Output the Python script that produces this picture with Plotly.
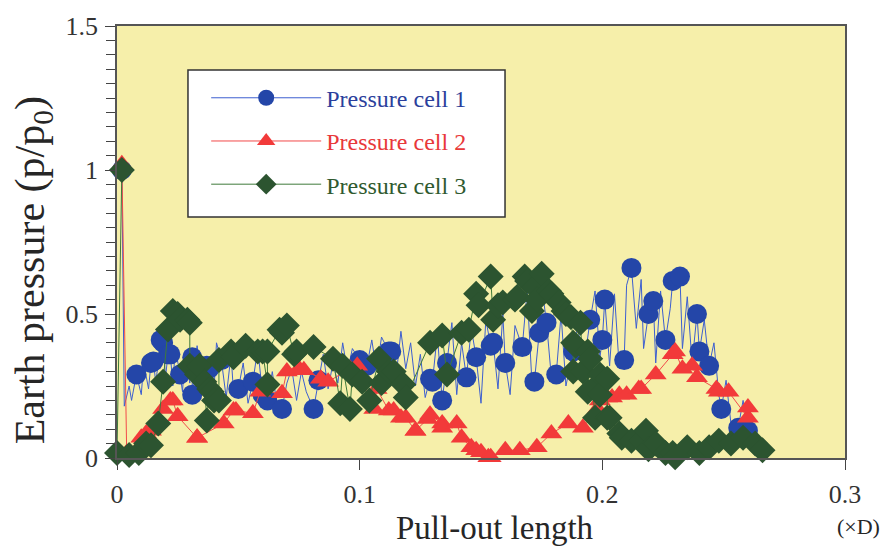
import plotly.graph_objects as go

# Pressure cell 1: full recorded signal (line) and plotted samples (circles)
x1_line = [0.000, 0.002, 0.003, 0.005, 0.006, 0.008, 0.010, 0.011, 0.013, 0.014, 0.015, 0.016,
           0.018, 0.019, 0.020, 0.021, 0.022, 0.023, 0.024, 0.026, 0.027, 0.028, 0.030, 0.031,
           0.031, 0.033, 0.035, 0.037, 0.038, 0.040, 0.041, 0.043, 0.045, 0.047, 0.048, 0.050,
           0.052, 0.054, 0.056, 0.058, 0.060, 0.062, 0.064, 0.066, 0.068, 0.070, 0.072, 0.074,
           0.076, 0.078, 0.081, 0.083, 0.085, 0.087, 0.089, 0.091, 0.093, 0.095, 0.097, 0.100,
           0.101, 0.103, 0.105, 0.107, 0.109, 0.112, 0.113, 0.115, 0.117, 0.119, 0.121, 0.123,
           0.125, 0.127, 0.129, 0.130, 0.132, 0.134, 0.136, 0.138, 0.140, 0.142, 0.144, 0.146,
           0.148, 0.150, 0.152, 0.154, 0.155, 0.157, 0.159, 0.160, 0.162, 0.164, 0.167, 0.169,
           0.171, 0.172, 0.174, 0.175, 0.177, 0.179, 0.181, 0.183, 0.185, 0.188, 0.190, 0.192,
           0.195, 0.197, 0.199, 0.200, 0.201, 0.203, 0.205, 0.207, 0.209, 0.210, 0.212, 0.214,
           0.216, 0.217, 0.219, 0.221, 0.222, 0.224, 0.226, 0.228, 0.229, 0.232, 0.233, 0.235,
           0.237, 0.239, 0.240, 0.242, 0.244, 0.246, 0.248, 0.249, 0.251, 0.253, 0.256, 0.258,
           0.260]
y1_line = [1.00, 1.00, 0.18, 0.25, 0.20, 0.29, 0.22, 0.33, 0.24, 0.33, 0.335, 0.26,
           0.41, 0.40, 0.28, 0.36, 0.36, 0.25, 0.38, 0.29, 0.23, 0.37, 0.26, 0.35,
           0.22, 0.39, 0.27, 0.32, 0.31, 0.24, 0.40, 0.34, 0.21, 0.36, 0.23, 0.24,
           0.33, 0.19, 0.265, 0.38, 0.22, 0.20, 0.30, 0.18, 0.17, 0.26, 0.31, 0.20,
           0.30, 0.23, 0.17, 0.27, 0.36, 0.24, 0.33, 0.26, 0.40, 0.30, 0.38, 0.34,
           0.27, 0.32, 0.41, 0.30, 0.42, 0.37, 0.37, 0.28, 0.44, 0.31, 0.40, 0.25,
           0.36, 0.21, 0.275, 0.265, 0.43, 0.20, 0.33, 0.47, 0.22, 0.40, 0.28, 0.45,
           0.35, 0.19, 0.48, 0.39, 0.40, 0.24, 0.50, 0.33, 0.22, 0.46, 0.385, 0.58,
           0.26, 0.265, 0.435, 0.60, 0.47, 0.28, 0.29, 0.50, 0.25, 0.37, 0.46, 0.30,
           0.48, 0.58, 0.35, 0.41, 0.55, 0.32, 0.57, 0.31, 0.34, 0.60, 0.66, 0.45,
           0.62, 0.38, 0.50, 0.545, 0.33, 0.58, 0.41, 0.52, 0.615, 0.63, 0.38, 0.56,
           0.33, 0.50, 0.37, 0.48, 0.32, 0.40, 0.22, 0.17, 0.27, 0.12, 0.105, 0.20,
           0.095]
x1 = [0.002, 0.008, 0.014, 0.015, 0.018, 0.019, 0.021, 0.022, 0.026, 0.031, 0.031, 0.037,
      0.038, 0.043, 0.050, 0.056, 0.060, 0.062, 0.068, 0.081, 0.083, 0.100, 0.103, 0.112,
      0.113, 0.129, 0.130, 0.134, 0.136, 0.144, 0.148, 0.154, 0.155, 0.160, 0.167, 0.172,
      0.174, 0.177, 0.181, 0.188, 0.195, 0.200, 0.201, 0.209, 0.212, 0.219, 0.221, 0.226,
      0.229, 0.232, 0.239, 0.240, 0.244, 0.249, 0.256, 0.260]
y1 = [1.00, 0.29, 0.33, 0.335, 0.41, 0.40, 0.36, 0.36, 0.29, 0.35, 0.22, 0.32,
      0.31, 0.34, 0.24, 0.265, 0.22, 0.20, 0.17, 0.17, 0.27, 0.34, 0.32, 0.37,
      0.37, 0.275, 0.265, 0.20, 0.33, 0.28, 0.35, 0.39, 0.40, 0.33, 0.385, 0.265,
      0.435, 0.47, 0.29, 0.37, 0.48, 0.41, 0.55, 0.34, 0.66, 0.50, 0.545, 0.41,
      0.615, 0.63, 0.50, 0.37, 0.32, 0.17, 0.105, 0.095]

# Pressure cell 2
x2 = [0.002, 0.004, 0.010, 0.012, 0.014, 0.019, 0.022, 0.023, 0.025, 0.033, 0.033,
      0.044, 0.048, 0.049, 0.056, 0.059, 0.068, 0.070, 0.075, 0.077, 0.084, 0.087, 0.096,
      0.099, 0.106, 0.107, 0.112, 0.114, 0.117, 0.119, 0.123, 0.123, 0.128, 0.129, 0.134,
      0.134, 0.140, 0.142, 0.146, 0.148, 0.150, 0.153, 0.154, 0.160, 0.166, 0.173, 0.179,
      0.186, 0.192, 0.198, 0.199, 0.202, 0.204, 0.207, 0.210, 0.215, 0.216, 0.222, 0.229,
      0.230, 0.233, 0.237, 0.239, 0.247, 0.248, 0.252, 0.260, 0.260]
y2 = [1.02, 0.017, 0.07, 0.085, 0.095, 0.17, 0.20, 0.20, 0.145, 0.07, 0.07,
      0.12, 0.165, 0.165, 0.155, 0.23, 0.225, 0.30, 0.31, 0.305, 0.275, 0.265, 0.31,
      0.32, 0.17, 0.24, 0.165, 0.165, 0.14, 0.14, 0.095, 0.095, 0.135, 0.15, 0.12,
      0.105, 0.12, 0.07, 0.037, 0.027, 0.02, 0.003, 0.003, 0.027, 0.027, 0.037, 0.085,
      0.12, 0.105, 0.17, 0.20, 0.21, 0.21, 0.22, 0.22, 0.24, 0.24, 0.29, 0.36,
      0.37, 0.31, 0.32, 0.28, 0.24, 0.23, 0.23, 0.14, 0.175]

# Pressure cell 3
x3 = [0.002, 0.000, 0.005, 0.009, 0.012, 0.014, 0.017, 0.019, 0.021, 0.023, 0.025, 0.026,
      0.029, 0.030, 0.030, 0.033, 0.034, 0.036, 0.037, 0.038, 0.039, 0.040, 0.042, 0.042,
      0.047, 0.048, 0.053, 0.058, 0.060, 0.062, 0.062, 0.067, 0.068, 0.070, 0.073, 0.074,
      0.081, 0.089, 0.092, 0.093, 0.096, 0.097, 0.101, 0.104, 0.108, 0.109, 0.112, 0.114,
      0.118, 0.119, 0.129, 0.134, 0.136, 0.142, 0.145, 0.148, 0.149, 0.154, 0.155, 0.157,
      0.159, 0.164, 0.165, 0.168, 0.169, 0.171, 0.172, 0.173, 0.175, 0.178, 0.179, 0.182,
      0.184, 0.185, 0.187, 0.188, 0.188, 0.189, 0.191, 0.192, 0.194, 0.194, 0.195, 0.197,
      0.198, 0.199, 0.199, 0.202, 0.202, 0.203, 0.207, 0.208, 0.212, 0.216, 0.218, 0.219,
      0.222, 0.226, 0.229, 0.230, 0.235, 0.240, 0.244, 0.248, 0.253, 0.258, 0.263, 0.266]
y3 = [1.00, 0.017, 0.01, 0.017, 0.05, 0.044, 0.12, 0.265, 0.446, 0.51, 0.50, 0.48,
      0.48, 0.47, 0.32, 0.29, 0.32, 0.265, 0.13, 0.24, 0.23, 0.20, 0.20, 0.34,
      0.37, 0.35, 0.39, 0.37, 0.37, 0.255, 0.37, 0.445, 0.435, 0.46, 0.36, 0.37,
      0.385, 0.345, 0.19, 0.32, 0.17, 0.29, 0.265, 0.20, 0.345, 0.26, 0.30, 0.30,
      0.255, 0.21, 0.40, 0.425, 0.29, 0.435, 0.445, 0.57, 0.53, 0.63, 0.48, 0.53,
      0.54, 0.55, 0.56, 0.63, 0.615, 0.51, 0.595, 0.55, 0.64, 0.58, 0.57, 0.54,
      0.51, 0.50, 0.49, 0.40, 0.30, 0.39, 0.47, 0.30, 0.37, 0.23, 0.345, 0.14,
      0.255, 0.29, 0.22, 0.275, 0.14, 0.14, 0.085, 0.07, 0.06, 0.06, 0.095, 0.03,
      0.05, 0.017, 0.017, 0.003, 0.037, 0.017, 0.037, 0.06, 0.05, 0.07, 0.05, 0.027]

names = ["Pressure cell 1", "Pressure cell 2", "Pressure cell 3"]
x_ticks = [0, 0.1, 0.2, 0.3]

BLUE_LINE, BLUE_MK = "#3d5fd0", "#2446a8"
RED_LINE, RED_MK = "#f24a4a", "#f23a3a"
GREEN_LINE, GREEN_MK = "#3f7a3a", "#2c5430"
SERIF = "Liberation Serif, Times New Roman, serif"
INK = "#262626"

fig = go.Figure()

# cell 1: noisy signal plus sampled circles
fig.add_trace(go.Scatter(x=x1_line, y=y1_line, mode="lines",
                         line=dict(color=BLUE_LINE, width=1), showlegend=False,
                         cliponaxis=False))
fig.add_trace(go.Scatter(x=x1, y=y1, mode="markers",
                         marker=dict(symbol="circle", size=20, color=BLUE_MK),
                         showlegend=False, cliponaxis=False))
# cell 2
fig.add_trace(go.Scatter(x=x2, y=y2, mode="lines+markers",
                         line=dict(color=RED_LINE, width=1),
                         marker=dict(symbol="triangle-up", size=19, color=RED_MK),
                         showlegend=False, cliponaxis=False))
# cell 3
fig.add_trace(go.Scatter(x=x3, y=y3, mode="lines+markers",
                         line=dict(color=GREEN_LINE, width=1),
                         marker=dict(symbol="diamond", size=20, color=GREEN_MK),
                         showlegend=False, cliponaxis=False))

# legend entries (one group each so the rows can be spaced apart)
for i, (name, lc, mc, sym, txt) in enumerate([
    (names[0], BLUE_LINE, BLUE_MK, "circle", "#2b3f9c"),
    (names[1], RED_LINE, RED_MK, "triangle-up", "#e8383a"),
    (names[2], GREEN_LINE, GREEN_MK, "diamond", "#2f5a2f"),
]):
    fig.add_trace(go.Scatter(x=[None], y=[None], mode="lines+markers",
                             line=dict(color=lc, width=1),
                             marker=dict(symbol=sym, size=18, color=mc),
                             legendgroup=f"g{i}",
                             name=f"<span style='color:{txt}'>{name}</span>"))

axis_common = dict(showline=True, linecolor="#555555", linewidth=1.5, mirror=True,
                   showgrid=False, zeroline=False,
                   tickfont=dict(family=SERIF, size=26, color="#333333"),
                   ticks="outside", tickcolor="#444444", tickwidth=1)

fig.update_layout(
    width=884, height=551,
    margin=dict(l=117, r=39, t=17, b=93),
    paper_bgcolor="white",
    plot_bgcolor="#f6efaa",
    font=dict(family=SERIF, color=INK),
    xaxis=dict(range=[0, 0.3], tickvals=x_ticks, ticklen=10, ticklabelstandoff=2,
               **axis_common),
    yaxis=dict(range=[0, 1.5], dtick=0.5, ticklen=10, ticklabelstandoff=2,
               minor=dict(dtick=0.05, ticks="outside", ticklen=9, tickcolor="#444444"),
               **axis_common),
    legend=dict(x=0.1225, y=0.885, xanchor="left", yanchor="top",
                bgcolor="rgba(0,0,0,0)", borderwidth=0,
                font=dict(family=SERIF, size=24), itemwidth=110,
                tracegroupgap=9),
    shapes=[dict(type="rect", xref="paper", yref="paper",
                 x0=0.0975, x1=0.533, y0=0.558, y1=0.898,
                 fillcolor="white", line=dict(color="#333333", width=1.5), layer="above")],
    annotations=[
        dict(text="Pull-out length", xref="paper", yref="paper", x=0.519, y=-0.163,
             xanchor="center", yanchor="middle", showarrow=False,
             font=dict(family=SERIF, size=33, color=INK)),
        dict(text="Earth pressure (p/p<sub>0</sub>)", xref="paper", yref="paper",
             x=-0.115, y=0.435, xanchor="center", yanchor="middle", textangle=-90,
             showarrow=False, font=dict(family=SERIF, size=42, color=INK)),
        dict(text="(×D)", xref="paper", yref="paper", x=1.018, y=-0.159,
             xanchor="center", yanchor="middle", showarrow=False,
             font=dict(family=SERIF, size=22, color=INK)),
    ],
)

fig.write_html("out.html")
